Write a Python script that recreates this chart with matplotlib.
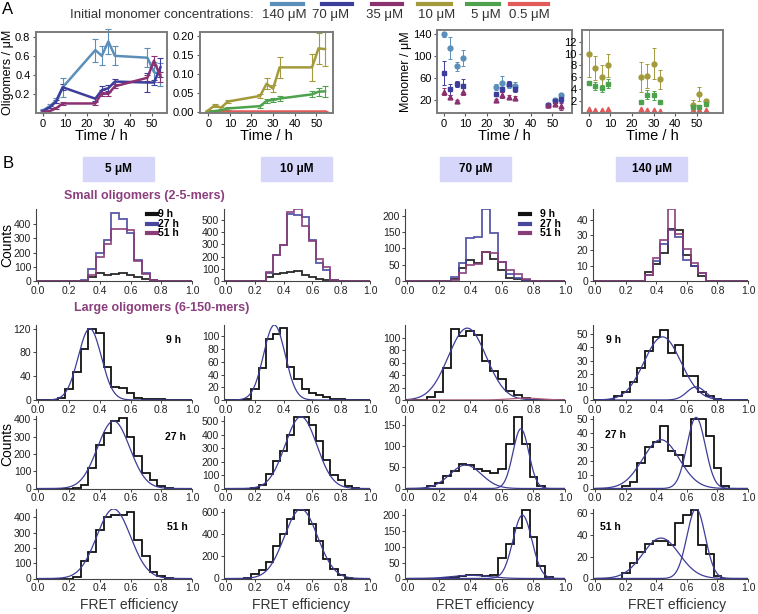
import numpy as np
import matplotlib
matplotlib.use('Agg')
import matplotlib.pyplot as plt
from matplotlib.lines import Line2D
from matplotlib.patches import Rectangle

plt.rcParams['font.family'] = ['Liberation Sans', 'DejaVu Sans']

# ---------------- data: panel A ----------------
conc_labels = ['140 μM', '70 μM', '35 μM', '10 μM', '5 μM', '0.5 μM']
conc_colors = ['#5b8fb9', '#3d3d9c', '#8c3170', '#a39a3c', '#4ea24e', '#e25a5a']

times = [0, 3, 6, 9, 24, 27, 30, 33, 48, 51, 54]

olig_140 = [0.03, 0.07, 0.13, 0.27, 0.66, 0.60, 0.75, 0.60, 0.58, 0.43, 0.40]
olig_140_err = [0.01, 0.02, 0.03, 0.10, 0.12, 0.10, 0.13, 0.10, 0.10, 0.10, 0.12]
olig_70 = [0.02, 0.06, 0.12, 0.27, 0.15, 0.24, 0.26, 0.33, 0.32, 0.32, 0.48]
olig_70_err = [0.01, 0.01, 0.02, 0.03, 0.02, 0.04, 0.03, 0.03, 0.10, 0.03, 0.10]
olig_35 = [0.01, 0.02, 0.05, 0.10, 0.10, 0.21, 0.20, 0.28, 0.37, 0.55, 0.38]
olig_35_err = [0.005, 0.01, 0.01, 0.02, 0.02, 0.03, 0.02, 0.02, 0.03, 0.05, 0.05]

olig_10 = [0.005, 0.018, 0.012, 0.028, 0.043, 0.075, 0.062, 0.118, 0.118, 0.168, 0.166]
olig_10_err = [0.002, 0.003, 0.003, 0.004, 0.005, 0.015, 0.010, 0.027, 0.035, 0.040, 0.045]
olig_5 = [0.001, 0.003, 0.005, 0.010, 0.016, 0.030, 0.032, 0.036, 0.047, 0.054, 0.055]
olig_5_err = [0.001, 0.002, 0.002, 0.003, 0.004, 0.006, 0.005, 0.007, 0.008, 0.010, 0.015]
olig_05 = [0.002] * 11
olig_05_err = [0.001] * 11

mono_140 = [140, 115, 82, 97, 44, 51, 48, 47, 12, 21, 30]
mono_140_err = [5, 20, 8, 15, 5, 14, 6, 6, 2, 3, 3]
mono_70 = [70, 40, 50, 47, 32, 40, 50, 41, 12, 18, 22]
mono_70_err = [22, 10, 5, 12, 4, 5, 6, 6, 2, 3, 5]
mono_35 = [36, 26, 18, 36, 21, 30, 26, 24, 12, 14, 9]
mono_35_err = [6, 3, 2, 7, 2, 6, 3, 4, 1, 2, 7]

mono_10 = [10, 7.5, 6, 8, 6, 6.2, 8.3, 5.6, 1.3, 3.1, 2.0]
mono_10_err = [4, 2, 2, 2, 2.6, 2, 2.7, 1.6, 0.8, 1.2, 0.3]
mono_5 = [5, 4.5, 4.1, 4.9, 1.8, 3.0, 2.9, 1.8, 0.9, 1.0, 1.5]
mono_5_err = [0.3, 0.7, 0.6, 0.7, 0.3, 0.8, 0.8, 0.2, 0.5, 0.3, 0.3]
mono_05 = [0.5, 0.35, 0.45, 0.5, 0.55, 0.45, 0.45, 0.3, 0.35, 0.4, 0.4]

# ---------------- data: panel B ----------------
col_titles = ['5 μM', '10 μM', '70 μM', '140 μM']
hour_labels = ['9 h', '27 h', '51 h']
hist_colors = ['#111111', '#4747a0', '#8a3d78']
fit_color = '#3d3d98'
bin_centers = [round(0.05 * k, 2) for k in range(21)]

small_5_9h = [0]*7 + [30, 55, 45, 48, 58, 42, 25, 12, 4] + [0]*5
small_5_27h = [0]*6 + [8, 85, 200, 290, 480, 440, 340, 150, 55, 5] + [0]*5
small_5_51h = [0]*6 + [3, 45, 170, 260, 370, 365, 360, 140, 50, 5] + [0]*5
small_10_9h = [0]*6 + [30, 60, 65, 70, 85, 50, 30, 18, 10, 5] + [0]*5
small_10_27h = [0]*6 + [65, 215, 290, 545, 540, 520, 335, 150, 90, 5] + [0]*5
small_10_51h = [0]*6 + [70, 215, 295, 565, 585, 450, 330, 180, 115, 5] + [0]*5
small_70_9h = [0]*6 + [5, 40, 65, 55, 88, 68, 35, 10, 5, 0] + [0]*5
small_70_27h = [0]*6 + [12, 54, 132, 134, 220, 147, 59, 20, 10, 3] + [0]*5
small_70_51h = [0]*6 + [3, 25, 48, 52, 88, 85, 58, 35, 20, 5] + [0]*5
small_140_9h = [0]*7 + [6, 11, 18, 34, 33, 17, 10, 3] + [0]*6
small_140_27h = [0]*7 + [4, 13, 24, 33, 29, 14, 10, 5] + [0]*6
small_140_51h = [0]*7 + [4, 15, 27, 47, 31, 21, 12, 5] + [0]*6

large_5_9h = [0, 0, 0, 3, 18, 47, 85, 120, 113, 56, 22, 20, 12, 3, 2, 2, 1, 0, 0, 0, 0]
large_5_27h = [0, 0, 0, 0, 0, 5, 22, 120, 250, 320, 390, 410, 300, 185, 90, 50, 15, 3, 0, 0, 0]
large_5_51h = [0, 0, 0, 0, 0, 10, 115, 175, 320, 405, 415, 415, 435, 255, 150, 45, 15, 3, 0, 0, 0]
large_10_9h = [0, 0, 0, 2, 18, 50, 96, 104, 113, 52, 33, 18, 11, 8, 4, 2, 1, 0, 0, 0, 0]
large_10_27h = [0, 0, 0, 0, 5, 26, 110, 205, 280, 400, 530, 535, 470, 355, 215, 100, 60, 18, 5, 0, 0]
large_10_51h = [0, 0, 0, 5, 40, 75, 145, 290, 400, 535, 615, 620, 495, 335, 180, 90, 30, 8, 0, 0, 0]
large_70_9h = [0, 0, 0, 5, 13, 52, 113, 103, 110, 104, 63, 47, 34, 14, 8, 3, 0, 0, 0, 0, 0]
large_70_27h = [0, 0, 0, 5, 12, 30, 42, 57, 56, 45, 42, 37, 45, 105, 168, 105, 28, 5, 0, 0, 0]
large_70_51h = [0, 0, 0, 0, 0, 3, 5, 8, 10, 10, 8, 10, 65, 110, 160, 215, 130, 40, 5, 0, 0]
large_140_9h = [0, 0, 0, 3, 6, 14, 24, 37, 48, 53, 36, 42, 18, 18, 6, 3, 1, 0, 0, 0, 0]
large_140_27h = [0, 0, 0, 0, 2, 5, 18, 30, 33, 45, 27, 24, 16, 50, 50, 38, 15, 2, 0, 0, 0]
large_140_51h = [0, 0, 0, 0, 5, 14, 24, 32, 34, 34, 31, 51, 58, 63, 31, 22, 2, 0, 0, 0, 0]

# gaussian fit parameters (amplitude, centre, width)
fit_5_9h = [(120, 0.335, 0.075)]
fit_5_27h = [(390, 0.49, 0.105)]
fit_5_51h = [(455, 0.49, 0.11)]
fit_10_9h = [(118, 0.335, 0.075)]
fit_10_27h = [(535, 0.52, 0.11)]
fit_10_51h = [(625, 0.52, 0.115)]
fit_70_9h = [(115, 0.38, 0.12), (3, 0.75, 0.10)]
fit_70_27h = [(55, 0.37, 0.10), (140, 0.72, 0.05)]
fit_70_51h = [(10, 0.40, 0.12), (200, 0.73, 0.06)]
fit_140_9h = [(48, 0.44, 0.12), (10, 0.66, 0.06)]
fit_140_27h = [(35, 0.43, 0.12), (51, 0.66, 0.06)]
fit_140_51h = [(37, 0.43, 0.12), (64, 0.66, 0.06)]

small_hists = [[small_5_9h, small_5_27h, small_5_51h],
               [small_10_9h, small_10_27h, small_10_51h],
               [small_70_9h, small_70_27h, small_70_51h],
               [small_140_9h, small_140_27h, small_140_51h]]
large_hists = [[large_5_9h, large_10_9h, large_70_9h, large_140_9h],
               [large_5_27h, large_10_27h, large_70_27h, large_140_27h],
               [large_5_51h, large_10_51h, large_70_51h, large_140_51h]]
large_fits = [[fit_5_9h, fit_10_9h, fit_70_9h, fit_140_9h],
              [fit_5_27h, fit_10_27h, fit_70_27h, fit_140_27h],
              [fit_5_51h, fit_10_51h, fit_70_51h, fit_140_51h]]

W, H = 758, 614
fig = plt.figure(figsize=(W / 100, H / 100), dpi=100)


def box(x0, y0, x1, y1):
    return fig.add_axes([x0 / W, 1 - y1 / H, (x1 - x0) / W, (y1 - y0) / H])


def ftext(x, y, s, **kw):
    fig.text(x / W, 1 - y / H, s, **kw)


def style_a(ax):
    for sp in ax.spines.values():
        sp.set_color('#7c7c7c')
        sp.set_linewidth(1.4)
    ax.tick_params(labelsize=8, length=2.5, width=0.8, pad=1.5, color='#555555')
    ax.set_xticks([0, 10, 20, 30, 40, 50])
    ax.set_xlabel('Time / h', fontsize=10.5, labelpad=0)


# ---------------- panel A ----------------
ftext(8, 10, 'A', fontsize=12, ha='center', va='center')
ftext(70, 15, 'Initial monomer concentrations:', fontsize=9.5, va='center', color='#333333')
leg_line_x = [(272, 303), (322, 352), (372, 402), (418, 451), (467, 499), (510, 548)]
leg_text_x = [284, 331, 385, 437, 486, 529]
for (xa, xb), xt, lab, c in zip(leg_line_x, leg_text_x, conc_labels, conc_colors):
    fig.add_artist(Line2D([xa / W, xb / W], [1 - 4 / H, 1 - 4 / H], color=c, lw=3,
                          transform=fig.transFigure))
    ftext(xt, 15, lab, fontsize=9.5, ha='center', va='center', color='#333333')

# oligomers, high concentrations
ax = box(36, 32, 167, 113)
for v, e, c in [(olig_140, olig_140_err, conc_colors[0]),
                (olig_70, olig_70_err, conc_colors[1]),
                (olig_35, olig_35_err, conc_colors[2])]:
    ax.errorbar(times, v, yerr=e, color=c, lw=1.8, elinewidth=0.8, capsize=2,
                capthick=0.8, clip_on=False)
ax.set_xlim(-3.3, 57)
ax.set_ylim(0, 0.85)
ax.set_yticks([0.2, 0.4, 0.6, 0.8])
ax.set_ylabel('Oligomers / μM', fontsize=9, labelpad=1)
style_a(ax)

# oligomers, low concentrations
ax = box(200, 32, 333, 113)
for v, e, c in [(olig_05, olig_05_err, conc_colors[5]),
                (olig_5, olig_5_err, conc_colors[4]),
                (olig_10, olig_10_err, conc_colors[3])]:
    ax.errorbar(times, v, yerr=e, color=c, lw=1.8, elinewidth=0.8, capsize=2,
                capthick=0.8, clip_on=False)
ax.set_xlim(-3.8, 57.7)
ax.set_ylim(-0.002, 0.211)
ax.set_yticks([0, 0.05, 0.10, 0.15, 0.20])
ax.set_yticklabels(['0.00', '0.05', '0.10', '0.15', '0.20'])
style_a(ax)

# monomers, high concentrations
ax = box(437, 30, 572, 113)
for v, e, c, m in [(mono_140, mono_140_err, conc_colors[0], 'o'),
                   (mono_70, mono_70_err, conc_colors[1], 's'),
                   (mono_35, mono_35_err, conc_colors[2], '^')]:
    ax.errorbar(times, v, yerr=e, fmt=m, color=c, ms=3.5, elinewidth=0.7,
                capsize=1.5, capthick=0.7)
ax.set_xlim(-3, 59)
ax.set_ylim(-3, 148)
ax.set_yticks([20, 60, 100, 140])
ax.set_ylabel('Monomer / μM', fontsize=9, labelpad=1)
style_a(ax)

# monomers, low concentrations
ax = box(582, 30, 723, 113)
for v, e, c, m in [(mono_10, mono_10_err, conc_colors[3], 'o'),
                   (mono_5, mono_5_err, conc_colors[4], 's')]:
    ax.errorbar(times, v, yerr=e, fmt=m, color=c, ms=3.5, elinewidth=0.7,
                capsize=1.5, capthick=0.7)
ax.plot(times, mono_05, '^', color=conc_colors[5], ms=3.5, ls='none')
ax.set_xlim(-3, 62)
ax.set_ylim(-0.1, 14)
ax.set_yticks([2, 4, 6, 8, 10, 12])
style_a(ax)

# ---------------- panel B ----------------
ftext(8, 164, 'B', fontsize=12, ha='center', va='center')
head_x = [(83, 154), (261, 332), (440, 511), (616, 687)]
for (xa, xb), t in zip(head_x, col_titles):
    fig.add_artist(Rectangle((xa / W, 1 - 181 / H), (xb - xa) / W, 24 / H,
                             transform=fig.transFigure, color='#d6d6fa', zorder=0))
    ftext((xa + xb) / 2, 169, t, fontsize=8.5, fontweight='bold', ha='center', va='center')

ftext(144, 196, 'Small oligomers (2-5-mers)', fontsize=9, fontweight='bold',
      color='#8b3f7d', ha='center', va='center')
ftext(162, 308, 'Large oligomers (6-150-mers)', fontsize=9, fontweight='bold',
      color='#8b3f7d', ha='center', va='center')

col_x = [(36, 192), (224, 370), (405, 565), (593, 748)]
edges = np.array([c - 0.025 for c in bin_centers] + [bin_centers[-1] + 0.025])
xfit = np.linspace(0, 1, 300)


def style_b(ax, ytop, yticks):
    ax.set_xlim(-0.015, 1.0)
    ax.set_ylim(0, ytop)
    ax.set_yticks(yticks)
    ax.set_xticks([0, 0.2, 0.4, 0.6, 0.8, 1.0])
    ax.set_xticklabels(['0.0', '0.2', '0.4', '0.6', '0.8', '1.0'])
    for s in ['top', 'right']:
        ax.spines[s].set_visible(False)
    for s in ['left', 'bottom']:
        ax.spines[s].set_linewidth(0.8)
        ax.spines[s].set_color('#444444')
    ax.tick_params(labelsize=7.5, length=2, width=0.6, pad=1.5, colors='#222222')
    ax.patch.set_alpha(0)


# small oligomers row
small_top = [508, 588, 220, 47]
small_ticks = [[0, 100, 200, 300, 400], [0, 100, 200, 300, 400, 500],
               [0, 50, 100, 150, 200], [0, 10, 20, 30, 40]]
for ci, (xa, xb) in enumerate(col_x):
    ax = box(xa, 209, xb, 281)
    for hi in [0, 1, 2]:
        ax.stairs(small_hists[ci][hi], edges, color=hist_colors[hi], lw=1.3,
                  baseline=0, alpha=0.9)
    style_b(ax, small_top[ci], small_ticks[ci])

# legends in small row
for lx, tx in [(147, 158), (520, 540)]:
    for hi, yy in enumerate([214, 223.5, 233]):
        fig.add_artist(Line2D([lx / W, (lx + 10) / W], [1 - yy / H, 1 - yy / H],
                              color=hist_colors[hi], lw=3, transform=fig.transFigure))
        ftext(tx, yy, hour_labels[hi], fontsize=7.5, fontweight='bold', va='center')

ftext(7, 245, 'Counts', fontsize=10, rotation=90, ha='center', va='center')

# large oligomers rows
row_y = [(325, 400), (416, 488.5), (508.5, 578.5)]
large_top = [[126, 118, 120, 57], [419, 540, 170, 52], [458, 630, 221, 64]]
large_ticks = [
    [[0, 40, 80, 120], [0, 20, 40, 60, 80, 100], [0, 20, 40, 60, 80, 100], [0, 10, 20, 30, 40, 50]],
    [[0, 100, 200, 300, 400], [0, 100, 200, 300, 400, 500], [0, 50, 100, 150], [0, 10, 20, 30, 40, 50]],
    [[0, 100, 200, 300, 400], [0, 200, 400, 600], [0, 50, 100, 150, 200], [0, 20, 40, 60]],
]
hour_pos = [[(173, 340), (613, 340)], [(175, 437), (615, 435)], [(177, 527), (610, 527)]]
for ri, (ya, yb) in enumerate(row_y):
    for ci, (xa, xb) in enumerate(col_x):
        ax = box(xa, ya, xb, yb)
        ax.stairs(large_hists[ri][ci], edges, color='#111111', lw=1.3, baseline=0)
        for k, (a, mu, sg) in enumerate(large_fits[ri][ci]):
            col = fit_color if a > 5 else '#b0607e'
            ax.plot(xfit, a * np.exp(-0.5 * ((xfit - mu) / sg) ** 2), color=col, lw=0.9)
        style_b(ax, large_top[ri][ci], large_ticks[ri][ci])
    for (hx, hy) in hour_pos[ri]:
        ftext(hx, hy, hour_labels[ri], fontsize=7.5, fontweight='bold', ha='center', va='center')

ftext(7, 444, 'Counts', fontsize=10, rotation=90, ha='center', va='center')
for fx in [129, 301, 485, 677]:
    ftext(fx, 605, 'FRET efficiency', fontsize=10, ha='center', va='center', color='#333333')

fig.savefig('out.png', dpi=100)
